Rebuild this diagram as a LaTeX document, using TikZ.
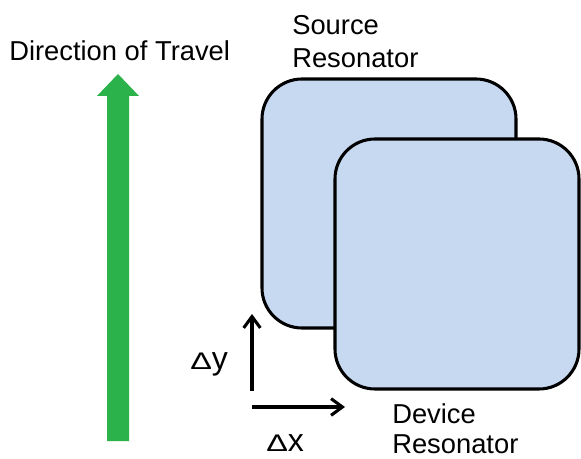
\documentclass[tikz,border=0pt]{standalone}
\usepackage{fontspec}
\setmainfont{Liberation Sans}
\usetikzlibrary{arrows.meta}
\definecolor{boxblue}{RGB}{198,217,241}
\definecolor{travelgreen}{RGB}{43,178,74}
\newcommand{\bigdelta}{\scalebox{1.35}[1]{\fontsize{18}{20}\selectfont Δ}}
\begin{document}
\begin{tikzpicture}[x=0.75pt,y=-0.75pt,
  lbl/.style={anchor=base west,inner sep=0pt,font=\fontsize{20.5}{24}\selectfont},
  dlbl/.style={anchor=base west,inner sep=0pt,font=\fontsize{24}{28}\selectfont},
  resbox/.style={draw=black,line width=2.3pt,fill=boxblue,rounded corners=30pt,anchor=north west,inner sep=0pt,outer sep=0pt},
  delta/.style={line width=2.3pt,-{Straight Barb[length=8.5pt,width=12.5pt,line width=2.3pt]}}]
\useasboundingbox (0,0) rectangle (581,459);
% green travel arrow
\fill[travelgreen] (107,441) -- (107,96) -- (97,96) -- (118,74) -- (139,96) -- (129,96) -- (129,441) -- cycle;
\node[lbl] (dir) at (9,61) {Direction of Travel};
% resonators
\node[resbox,minimum width=190.5pt,minimum height=186.75pt] (src) at (262,79) {};
\node[resbox,minimum width=183pt,minimum height=187.5pt] (dev) at (335,139) {};
\node[lbl] (srcA) at (292,35) {Source};
\node[lbl] (srcB) at (292,68) {Resonator};
\node[lbl] (devA) at (392,423) {Device};
\node[lbl] (devB) at (392,453) {Resonator};
% offsets
\coordinate (yb) at (252,391);
\coordinate (yt) at (252,314);
\coordinate (xl) at (252,407);
\coordinate (xr) at (345,407);
\draw[delta] (yb) -- (yt);
\draw[delta] (xl) -- (xr);
\node[dlbl] (dy) at (190,369) {\bigdelta y};
\node[dlbl] (dx) at (266,451) {\bigdelta x};
\end{tikzpicture}
\end{document}
